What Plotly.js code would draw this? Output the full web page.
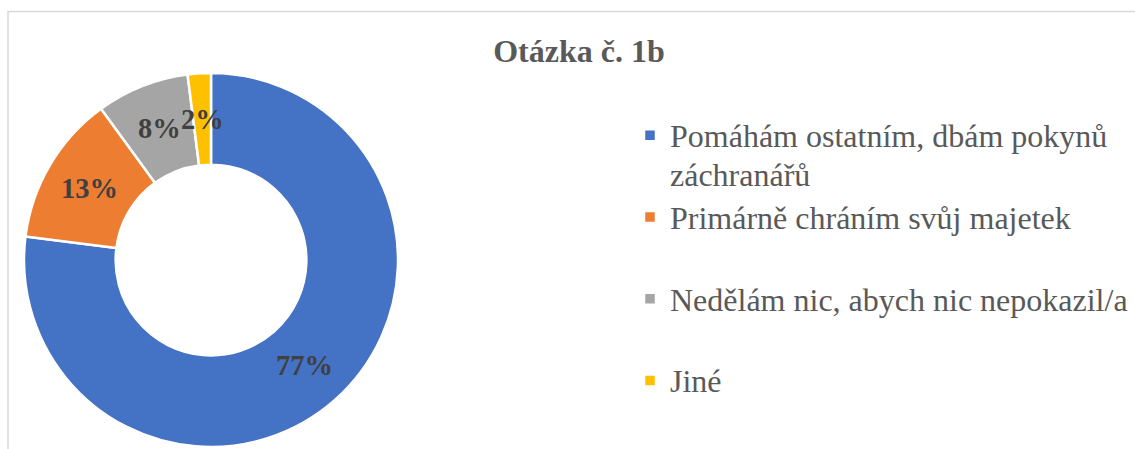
<!DOCTYPE html>
<html><head><meta charset="utf-8">
<script src="https://cdn.plot.ly/plotly-3.0.1.min.js"></script>
<style>html,body{margin:0;padding:0;background:#fff;}#chart{width:1135px;height:449px;}</style>
</head><body><div id="chart"></div>
<script>
// ---- data ----
const categories = [
  "Pomáhám ostatním, dbám pokynů<br>záchranářů",
  "Primárně chráním svůj majetek<br> ",
  "Nedělám nic, abych nic nepokazil/a<br> ",
  "Jiné<br> "
];
const values = [77, 13, 8, 2];
const valueLabels = values.map(v => v + "%");
const colors = ["#4472C4", "#ED7D31", "#A5A5A5", "#FFC000"];
const chartTitle = "Otázka č. 1b";

// ---- layout helpers ----
const W = 1135, H = 449;
const dom = {x: [24 / W, 398 / W], y: [1 - 447 / H, 1 - 73 / H]};
const hole = 0.51;
const total = values.reduce((a, b) => a + b, 0);
const cx = (dom.x[0] + dom.x[1]) / 2 * W;
const cy = (1 - (dom.y[0] + dom.y[1]) / 2) * H;
const R = Math.min((dom.x[1] - dom.x[0]) * W, (dom.y[1] - dom.y[0]) * H) / 2;
const rMid = R * (1 + hole) / 2;
let cum = 0;
const annotations = values.map((v, i) => {
  const a = (cum + v / 2) / total * 2 * Math.PI;
  cum += v;
  const px = cx + rMid * Math.sin(a), py = cy - rMid * Math.cos(a);
  return {xref: 'paper', yref: 'paper', x: px / W, y: 1 - py / H,
    xanchor: 'center', yanchor: 'middle', showarrow: false,
    text: '<b>' + valueLabels[i] + '</b>',
    font: {family: 'Liberation Serif', size: 28.5, color: '#404040'}};
});

const legendLabels = categories.map(c => '<span style="font-size:32px">' + c + '</span>');

const trace = {
  type: 'pie', labels: legendLabels, values: values, sort: false,
  direction: 'clockwise', rotation: 0, hole: hole,
  domain: dom,
  marker: {colors: colors, line: {color: '#ffffff', width: 2.5}},
  textinfo: 'none', hoverinfo: 'label+percent'
};

const layout = {
  width: W, height: H,
  margin: {l: 0, r: 0, t: 0, b: 0, autoexpand: false},
  paper_bgcolor: '#ffffff',
  title: {text: '<b>' + chartTitle + '</b>', x: 579 / W, xanchor: 'center',
    y: 1 - 51 / H, yanchor: 'middle',
    font: {family: 'Liberation Serif', size: 32, color: '#595959'}},
  showlegend: true,
  legend: {x: 630 / W, xanchor: 'left', y: 1 - 109 / H, yanchor: 'top',
    valign: 'top', bgcolor: 'rgba(0,0,0,0)',
    font: {family: 'Liberation Serif', size: 30.3, color: '#595959'}},
  annotations: annotations,
  shapes: [{type: 'rect', xref: 'paper', yref: 'paper',
    x0: 8 / W, x1: 1.05, y0: -0.05, y1: 1 - 11.5 / H,
    line: {color: '#d9d9d9', width: 1.5}, layer: 'below'}]
};

Plotly.newPlot('chart', [trace], layout, {displayModeBar: false, staticPlot: true});
</script>
</body></html>
